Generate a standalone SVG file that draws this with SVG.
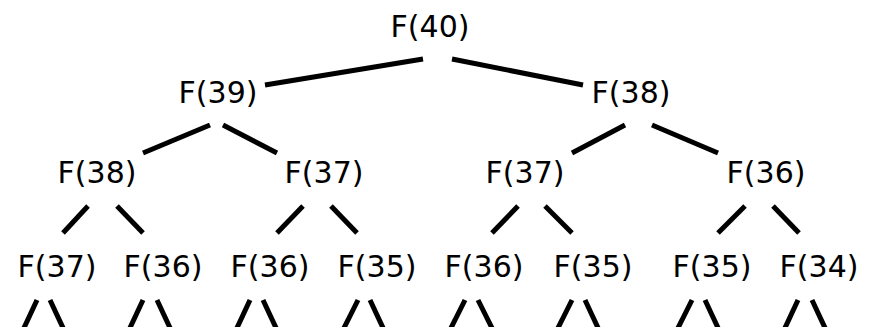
<svg xmlns="http://www.w3.org/2000/svg" width="874" height="327" viewBox="0 0 874 327">
<style>
  text { font-family: "DejaVu Sans", "Liberation Sans", sans-serif; font-size: 30px; fill: #000; text-anchor: middle; }
  line { stroke: #000; stroke-width: 5; }
</style>
<rect width="874" height="327" fill="#fff"/>
<g id="connectors">
  <line x1="423" y1="59" x2="265" y2="85"/>
  <line x1="452" y1="59" x2="583" y2="85"/>
  <line x1="210" y1="125" x2="143" y2="153"/>
  <line x1="223" y1="125" x2="277" y2="153"/>
  <line x1="625" y1="125" x2="572" y2="153"/>
  <line x1="652" y1="125" x2="718" y2="153"/>
  <line x1="88" y1="206" x2="63" y2="233"/>
  <line x1="117" y1="206" x2="143" y2="233"/>
  <line x1="303" y1="206" x2="277" y2="233"/>
  <line x1="331" y1="206" x2="357" y2="233"/>
  <line x1="518" y1="206" x2="492" y2="233"/>
  <line x1="545" y1="206" x2="572" y2="233"/>
  <line x1="745" y1="206" x2="718" y2="233"/>
  <line x1="773" y1="206" x2="799" y2="233"/>
  <line x1="37" y1="300" x2="23" y2="330"/>
  <line x1="50" y1="300" x2="64" y2="330"/>
  <line x1="143" y1="300" x2="129" y2="330"/>
  <line x1="157" y1="300" x2="171" y2="330"/>
  <line x1="250" y1="300" x2="236" y2="330"/>
  <line x1="263" y1="300" x2="277" y2="330"/>
  <line x1="358" y1="300" x2="343" y2="330"/>
  <line x1="370" y1="300" x2="384" y2="330"/>
  <line x1="465" y1="300" x2="450" y2="330"/>
  <line x1="478" y1="300" x2="493" y2="330"/>
  <line x1="572" y1="300" x2="557" y2="330"/>
  <line x1="585" y1="300" x2="599" y2="330"/>
  <line x1="692" y1="300" x2="677" y2="330"/>
  <line x1="705" y1="300" x2="719" y2="330"/>
  <line x1="798" y1="300" x2="784" y2="330"/>
  <line x1="812" y1="300" x2="826" y2="330"/>
</g>
<g id="n40"><text x="430" y="37">F(40)</text></g>
<g id="n39"><text x="218" y="103">F(39)</text></g>
<g id="n38a"><text x="631" y="103">F(38)</text></g>
<g id="n38b"><text x="97" y="183">F(38)</text></g>
<g id="n37a"><text x="324" y="183">F(37)</text></g>
<g id="n37b"><text x="525" y="183">F(37)</text></g>
<g id="n36a"><text x="766" y="183">F(36)</text></g>
<g id="n37c"><text x="57" y="277">F(37)</text></g>
<g id="n36b"><text x="163" y="277">F(36)</text></g>
<g id="n36c"><text x="270" y="277">F(36)</text></g>
<g id="n35a"><text x="377" y="277">F(35)</text></g>
<g id="n36d"><text x="484" y="277">F(36)</text></g>
<g id="n35b"><text x="593" y="277">F(35)</text></g>
<g id="n35c"><text x="712" y="277">F(35)</text></g>
<g id="n34"><text x="819" y="277">F(34)</text></g>
</svg>
